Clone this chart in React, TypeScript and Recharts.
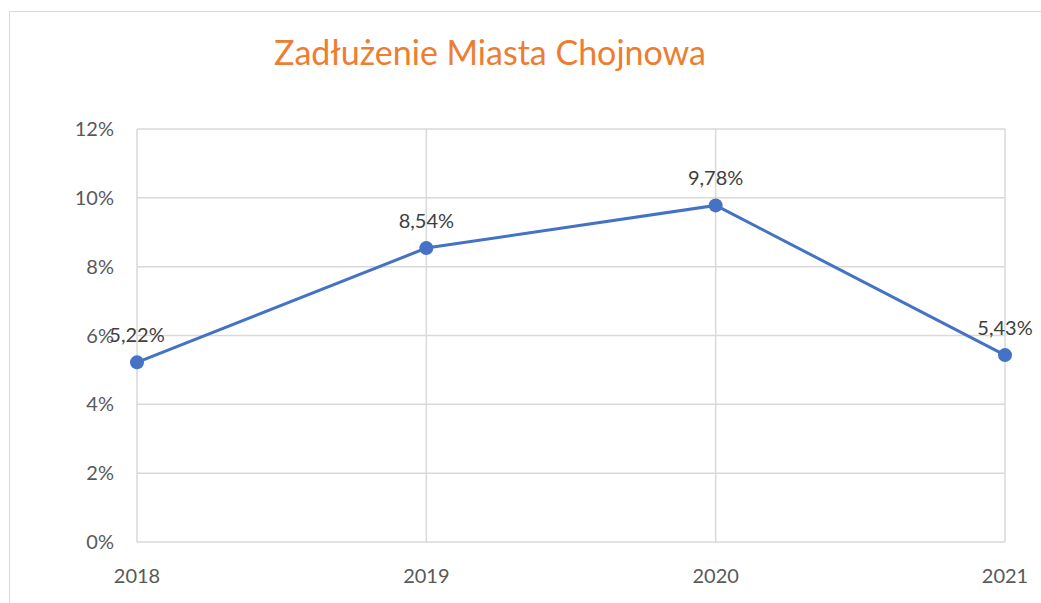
import { LineChart, Line, XAxis, YAxis, CartesianGrid, LabelList } from "recharts";

const years = ["2018", "2019", "2020", "2021"];
const debtPercent = [5.22, 8.54, 9.78, 5.43];
const yTicks = [0, 2, 4, 6, 8, 10, 12];

const data = years.map((year, i) => ({ year, value: debtPercent[i] }));

const FONT = "Lato, 'Noto Sans', sans-serif";
const BLUE = "#4472C4";

function formatPercent(v: number) {
  return v.toFixed(2).replace(".", ",") + "%";
}

export default function App() {
  return (
    <div
      style={{
        position: "absolute",
        left: 0,
        top: 0,
        width: 1041,
        height: 603,
        overflow: "hidden",
        background: "#fff",
        fontFamily: FONT,
      }}
    >
      <div
        style={{
          position: "absolute",
          left: 9,
          top: 11,
          width: 1100,
          height: 700,
          border: "1.5px solid #d9d9d9",
        }}
      />
      <div
        style={{
          position: "absolute",
          left: 0,
          top: 30,
          width: 980,
          textAlign: "center",
          color: "#ED7D31",
          fontSize: 34,
          lineHeight: "44px",
        }}
      >
        Zadłużenie Miasta Chojnowa
      </div>
      <div style={{ position: "absolute", left: 0, top: 0 }}>
        <LineChart
          width={1041}
          height={603}
          data={data}
          margin={{ top: 129, right: 36, bottom: 0, left: 0 }}
        >
          <CartesianGrid stroke="#d9d9d9" strokeWidth={1.5} />
          <XAxis
            dataKey="year"
            axisLine={false}
            tickLine={false}
            tickSize={0}
            tickMargin={27}
            height={61}
            tick={{ fontSize: 20, fill: "#595959", fontFamily: FONT }}
          />
          <YAxis
            domain={[0, 12]}
            ticks={yTicks}
            axisLine={false}
            tickLine={false}
            tickSize={0}
            tickMargin={23}
            width={137}
            tickFormatter={(v: number) => `${v}%`}
            tick={{ fontSize: 20, fill: "#595959", fontFamily: FONT }}
          />
          <Line
            type="linear"
            dataKey="value"
            stroke={BLUE}
            strokeWidth={3}
            dot={{ r: 7, fill: BLUE, stroke: "none" }}
            isAnimationActive={false}
          >
            <LabelList
              dataKey="value"
              position="top"
              offset={20}
              formatter={(v: number) => formatPercent(Number(v))}
              style={{ fontSize: 20, fill: "#404040", fontFamily: FONT }}
            />
          </Line>
        </LineChart>
      </div>
    </div>
  );
}
